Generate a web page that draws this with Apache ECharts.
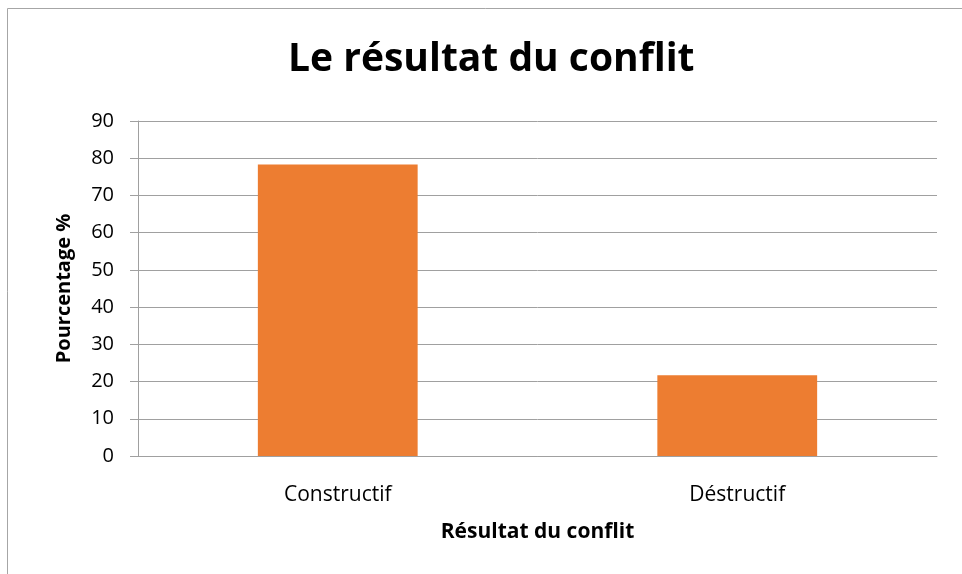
<!DOCTYPE html>
<html><head><meta charset="utf-8">
<script src="https://cdn.jsdelivr.net/npm/echarts@6/dist/echarts.min.js"></script>
<style>html,body{margin:0;padding:0;background:#fff}#c{width:962px;height:574px}</style>
</head><body><div id="c"></div>
<script>
const categories = ['Constructif', 'Déstructif'];
const values = [78.3, 21.7];
const yTicks = [0, 10, 20, 30, 40, 50, 60, 70, 80, 90];
const FONT = '"Open Sans", "Noto Sans", sans-serif';

const chart = echarts.init(document.getElementById('c'), null, {renderer: 'canvas'});
chart.setOption({
  animation: false,
  backgroundColor: '#fff',
  textStyle: {fontFamily: FONT},
  graphic: [{
    type: 'rect', silent: true,
    shape: {x: 7.5, y: 8.5, width: 1000, height: 1000},
    style: {fill: 'none', stroke: '#a6a6a6', lineWidth: 1}
  }],
  title: {
    text: 'Le résultat du conflit',
    left: 283, top: 35,
    textStyle: {fontFamily: FONT, fontSize: 39, fontWeight: 'bold', color: '#000'}
  },
  grid: {left: 138, right: 25, top: 121, bottom: 118, containLabel: false},
  xAxis: {
    type: 'category', data: categories,
    name: 'Résultat du conflit', nameLocation: 'middle', nameGap: 66,
    nameTextStyle: {fontFamily: FONT, fontSize: 21, fontWeight: 'bold', color: '#000'},
    axisLine: {lineStyle: {color: '#a0a0a0', width: 1}},
    axisTick: {show: false},
    axisLabel: {fontFamily: FONT, fontSize: 21, color: '#000', margin: 29}
  },
  yAxis: {
    type: 'value', min: 0, max: 90, interval: 10,
    name: 'Pourcentage %', nameLocation: 'middle', nameGap: 64,
    nameTextStyle: {fontFamily: FONT, fontSize: 20, fontWeight: 'bold', color: '#000'},
    axisLine: {show: true, lineStyle: {color: '#a0a0a0', width: 1}},
    axisTick: {show: true, length: 8, lineStyle: {color: '#a0a0a0'}},
    splitLine: {show: true, lineStyle: {color: '#a0a0a0', width: 1}},
    axisLabel: {fontFamily: FONT, fontSize: 20, color: '#000', margin: 24,
      formatter: v => yTicks.includes(v) ? String(v) : ''}
  },
  series: [{
    type: 'bar', data: values, barWidth: '40%',
    itemStyle: {color: '#ed7d31'}
  }]
});
</script></body></html>
